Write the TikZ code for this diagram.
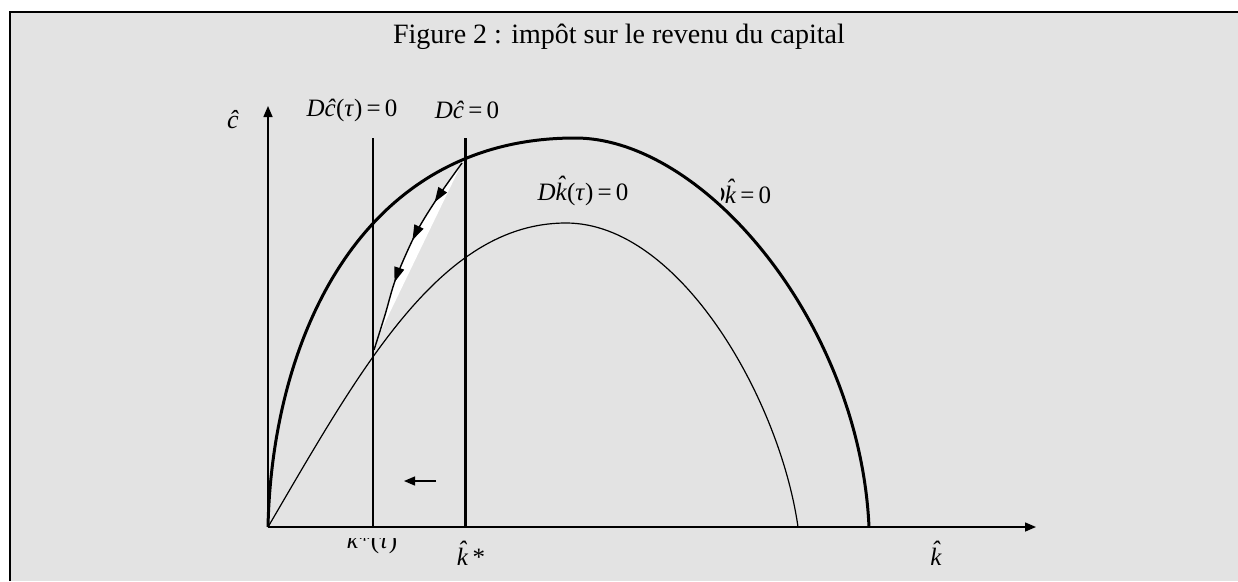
\documentclass[tikz,border=0pt]{standalone}
\usepackage{fontspec}
\setmainfont{Liberation Serif}
\usetikzlibrary{arrows.meta,decorations.markings}
\definecolor{bggrey}{HTML}{E3E3E3}
\newcommand\khat{\ooalign{\textit{k}\cr\hidewidth\raisebox{0.27em}{\textit{ˆ}}\hidewidth\cr}}
\tikzset{
  axis/.style={line width=1.5pt,-{Triangle[length=11pt,width=9pt]}},
  thickcurve/.style={line width=3pt},
  thincurve/.style={line width=1.2pt},
  lab/.style={font=\fontsize{25}{28}\selectfont, inner sep=0pt},
  pathmark/.style={line width=1.4pt, decoration={markings,
      mark=at position 0.23 with {\arrow{Triangle[length=15pt,width=10pt]}},
      mark=at position 0.44 with {\arrow{Triangle[length=15pt,width=10pt]}},
      mark=at position 0.66 with {\arrow{Triangle[length=15pt,width=10pt]}}},
      postaction=decorate}
}
\begin{document}
\begin{tikzpicture}[x=1pt,y=-1pt]
\useasboundingbox (0,0) rectangle (1238,581);
\fill[white] (0,0) rectangle (1238,581);
\fill[bggrey] (10,12) rectangle (1238,581);
\draw[line width=2.5pt] (10,581) -- (10,12) -- (1238,12);

\node[font=\fontsize{28}{32}\selectfont, inner sep=0pt] (title) at (619,37) {Figure 2 : impôt sur le revenu du capital};

\coordinate (O) at (268,527);
\coordinate (Ytip) at (268,106);
\coordinate (Xtip) at (1036,527);
\draw[axis] (O) -- (Ytip);
\draw[axis] (O) -- (Xtip);

% vertical lines
\coordinate (Vtt) at (373,138);
\coordinate (Vtb) at (373,527);
\coordinate (Vst) at (465,138);
\coordinate (Vsb) at (465,527);
\draw[line width=1.5pt] (Vtt) -- (Vtb);
\draw[line width=3pt] (Vst) -- (Vsb);

% thick curve  D k = 0
\coordinate (P1) at (575,138);
\coordinate (K1) at (869,527);
\draw[thickcurve] (O) .. controls (272,340) and (360,138) .. (P1)
                      .. controls (705,138) and (860,325) .. (K1);

% thin curve  D k(tau) = 0
\coordinate (P2) at (566,223);
\coordinate (K2) at (798,527);
\draw[thincurve] (O) .. controls (360,370) and (440,223) .. (P2)
                     .. controls (680,223) and (780,400) .. (K2);

% phase path with white sliver
\fill[white] plot[smooth] coordinates {(462,163) (438,197) (416,233) (396,278) (385,315) (374,350)} -- (378,337) -- cycle;
\draw[pathmark] plot[smooth] coordinates {(462,163) (438,197) (416,233) (396,278) (385,315) (374,350)};

% small left arrow
\coordinate (La) at (436,481);
\coordinate (Lb) at (404,481);
\draw[line width=1.3pt,-{Triangle[length=11pt,width=9pt]}] (La) -- (Lb);

% labels
\node[lab, font=\fontsize{26}{28}\selectfont] (cl) at (233,120) {\textit{ĉ}};
\node[lab] (l1) at (352,110) {\textit{D}\textit{ĉ}(\textit{τ})\,=\,0};
\node[lab] (l2) at (467,110) {\textit{D}\textit{ĉ}\,=\,0};
\node[lab] (l3) at (583,194) {\textit{D}\khat(\textit{τ})\,=\,0};
\begin{scope}
\clip (721,150) rectangle (800,220);
\node[lab] (l4) at (739,195) {\textit{D}\khat\,=\,0};
\end{scope}
\begin{scope}
\clip (330,538) rectangle (420,570);
\node[lab] (l5) at (372,542) {\khat*(\textit{τ})};
\end{scope}
\node[lab] (l6) at (471,557) {\khat\,*};
\node[lab] (l7) at (936,557) {\khat};
\end{tikzpicture}
\end{document}
